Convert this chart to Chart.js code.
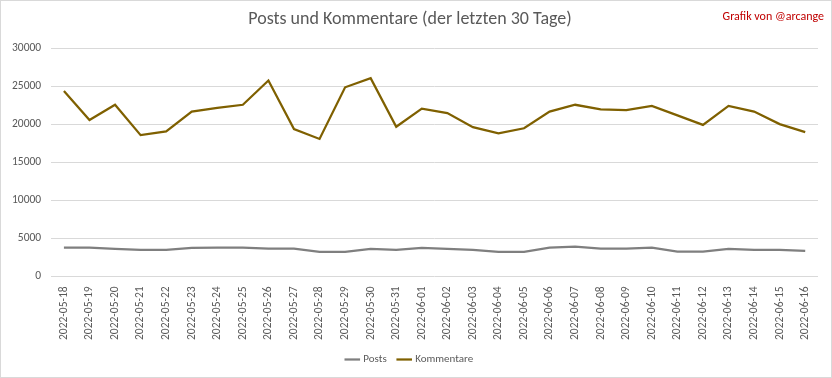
<!DOCTYPE html>
<html lang="de">
<head>
    <meta charset="UTF-8">
    <title>Posts und Kommentare</title>
    <script src="https://cdn.jsdelivr.net/npm/chart.js"></script>
    <style>
        html, body { margin: 0; padding: 0; background: #fff; }
        #wrap { position: relative; width: 830px; height: 376px; border: 1px solid #d9d9d9; }
        #credit { position: absolute; right: 7px; top: 8px; color: #c00000; font: 12px Carlito, "Open Sans", sans-serif; }
    </style>
</head>
<body>
<script>
// Tage (letzte 30)
const days = [
    '2022-05-18', '2022-05-19', '2022-05-20', '2022-05-21', '2022-05-22', '2022-05-23',
    '2022-05-24', '2022-05-25', '2022-05-26', '2022-05-27', '2022-05-28', '2022-05-29',
    '2022-05-30', '2022-05-31', '2022-06-01', '2022-06-02', '2022-06-03', '2022-06-04',
    '2022-06-05', '2022-06-06', '2022-06-07', '2022-06-08', '2022-06-09', '2022-06-10',
    '2022-06-11', '2022-06-12', '2022-06-13', '2022-06-14', '2022-06-15', '2022-06-16'
];
const posts = [
    3780, 3780, 3610, 3480, 3480, 3740, 3780, 3780, 3650, 3650, 3220, 3220,
    3610, 3480, 3740, 3610, 3480, 3220, 3220, 3780, 3910, 3650, 3650, 3780,
    3260, 3260, 3610, 3480, 3480, 3350
];
const kommentare = [
    24400, 20600, 22600, 18600, 19100, 21700, 22200, 22600, 25800, 19400, 18100, 24900,
    26100, 19700, 22100, 21500, 19650, 18850, 19500, 21700, 22600, 22000, 21900, 22450,
    21200, 19950, 22450, 21700, 20050, 19000
];
const yTicks = [0, 5000, 10000, 15000, 20000, 25000, 30000];
</script>
<div id="wrap">
    <canvas id="chart" width="830" height="376"></canvas>
    <div id="credit">Grafik von @arcange</div>
</div>
<script>
    const font = 'Carlito, "Open Sans", sans-serif';
    const ctx = document.getElementById('chart').getContext('2d');
    new Chart(ctx, {
        type: 'line',
        data: {
            labels: days,
            datasets: [
                { label: 'Posts', data: posts, borderColor: '#7f7f7f', backgroundColor: '#7f7f7f',
                  borderWidth: 2.25, pointRadius: 0, tension: 0 },
                { label: 'Kommentare', data: kommentare, borderColor: '#7f6000', backgroundColor: '#7f6000',
                  borderWidth: 2.25, pointRadius: 0, tension: 0 }
            ]
        },
        options: {
            responsive: false,
            animation: false,
            layout: { padding: { left: 1, right: 13, top: 0, bottom: 2 } },
            plugins: {
                title: {
                    display: true,
                    text: 'Posts und Kommentare (der letzten 30 Tage)',
                    color: '#595959',
                    font: { family: font, size: 18, weight: 'normal' },
                    padding: { top: 8, bottom: 18 }
                },
                legend: {
                    position: 'bottom',
                    labels: {
                        usePointStyle: true,
                        pointStyle: 'line',
                        boxWidth: 26,
                        color: '#595959',
                        font: { family: font, size: 11 },
                        padding: 12
                    }
                },
                tooltip: { enabled: false }
            },
            scales: {
                x: {
                    offset: true,
                    grid: { display: false },
                    border: { display: false },
                    ticks: {
                        color: '#595959',
                        font: { family: font, size: 11.5 },
                        minRotation: 90,
                        maxRotation: 90,
                        autoSkip: false,
                        padding: 2
                    }
                },
                y: {
                    min: yTicks[0],
                    max: yTicks[yTicks.length - 1],
                    border: { display: false },
                    grid: { color: '#d9d9d9', drawTicks: false },
                    afterBuildTicks: axis => { axis.ticks = yTicks.map(v => ({ value: v })); },
                    ticks: {
                        color: '#595959',
                        font: { family: font, size: 11.5 },
                        padding: 10,
                        callback: v => String(v)
                    }
                }
            }
        }
    });
</script>
</body>
</html>
